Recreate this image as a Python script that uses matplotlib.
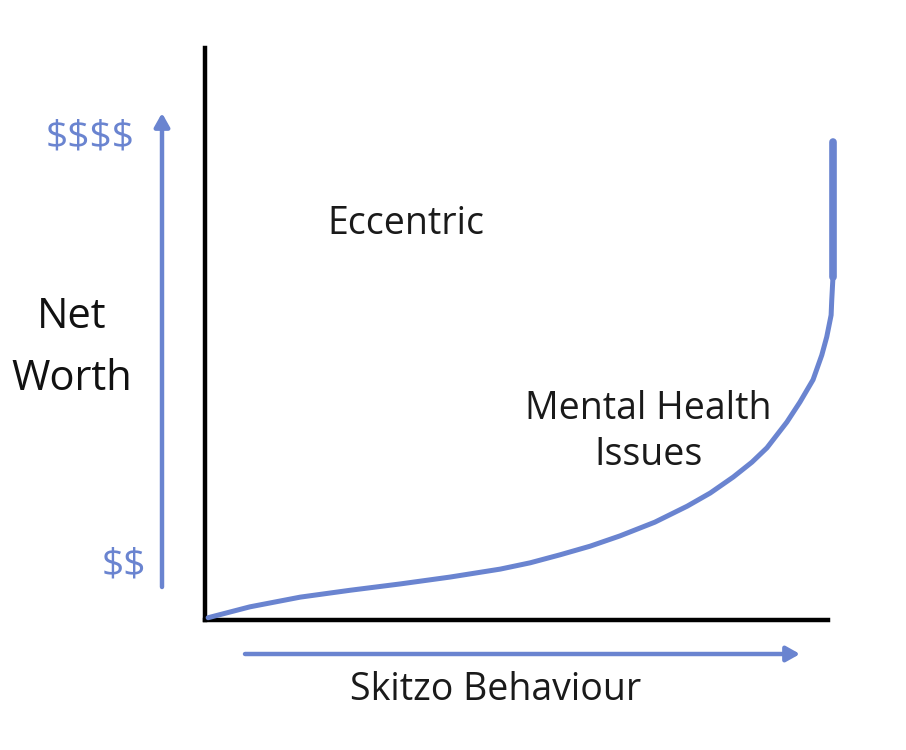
import matplotlib
matplotlib.use("Agg")
import matplotlib.pyplot as plt

# Curve data (x: skitzo behaviour 0-100, y: net worth 0-100)
curve_x = [0.5, 7.2, 15.3, 23.3, 31.3, 39.3, 47.4, 52.2, 57.0, 61.8, 66.6, 72.2,
           77.4, 81.1, 84.8, 87.8, 90.2, 93.4, 95.5, 97.6, 99.0, 99.8, 100.5,
           100.6, 100.8, 100.8]
curve_y = [0.4, 2.3, 4.0, 5.2, 6.3, 7.5, 8.9, 10.0, 11.4, 12.9, 14.7, 17.1,
           19.9, 22.2, 25.0, 27.6, 30.1, 34.6, 38.1, 42.0, 46.3, 49.5, 53.3,
           55.9, 60.0, 83.6]
top_x = [100.8, 100.8]
top_y = [60.0, 83.6]

x_label = "Skitzo Behaviour"
y_label = "Net\nWorth"
high_label = "$$$$"
low_label = "$$"
region_labels = ["Eccentric", "Mental Health\nIssues"]

BLUE = "#6a84d0"
W, H = 906, 750
plt.rcParams['font.family'] = ['Open Sans', 'DejaVu Sans']
fig = plt.figure(figsize=(W / 100, H / 100), dpi=100)
fig.patch.set_facecolor("white")

def fx(px):
    return px / W

def fy(py):
    return 1 - py / H

ax = fig.add_axes([fx(205), fy(620), (828 - 205) / W, (620 - 48) / H])
ax.set_xlim(0, 100)
ax.set_ylim(0, 100)
for s in ["top", "right"]:
    ax.spines[s].set_visible(False)
for s in ["left", "bottom"]:
    ax.spines[s].set_linewidth(3.2)
    ax.spines[s].set_color("black")
ax.set_xticks([])
ax.set_yticks([])

ax.plot(curve_x, curve_y, color=BLUE, lw=3.6, solid_capstyle="round",
        solid_joinstyle="round", clip_on=False, zorder=3)
ax.plot(top_x, top_y, color=BLUE, lw=5.5, solid_capstyle="round", clip_on=False, zorder=3)

# Text labels
fig.text(fx(406), fy(224), region_labels[0], fontsize=27,
         ha="center", va="center", color="#1a1a1a")
fig.text(fx(648), fy(432), region_labels[1], fontsize=27,
         ha="center", va="center", color="#1a1a1a", linespacing=1.3)

fig.text(fx(72), fy(348), y_label, fontsize=30, ha="center", va="center",
         color="#111111", linespacing=1.6)
fig.text(fx(496), fy(690), x_label, fontsize=27, ha="center", va="center", color="#1a1a1a")
fig.text(fx(90), fy(138), high_label, fontsize=28, ha="center", va="center", color=BLUE,
         parse_math=False)
fig.text(fx(124), fy(566), low_label, fontsize=28, ha="center", va="center", color=BLUE,
         parse_math=False)

# Arrows
ax.annotate("", xy=(fx(162), fy(113)), xytext=(fx(162), fy(587)),
            xycoords="figure fraction", textcoords="figure fraction",
            arrowprops=dict(arrowstyle="-|>,head_length=0.8,head_width=0.45",
                            lw=3.2, color=BLUE, shrinkA=0, shrinkB=0),
            annotation_clip=False)
ax.annotate("", xy=(fx(800), fy(654)), xytext=(fx(245), fy(654)),
            xycoords="figure fraction", textcoords="figure fraction",
            arrowprops=dict(arrowstyle="-|>,head_length=0.8,head_width=0.45",
                            lw=3.2, color=BLUE, shrinkA=0, shrinkB=0),
            annotation_clip=False)

fig.savefig("out.png", dpi=100, facecolor="white")
